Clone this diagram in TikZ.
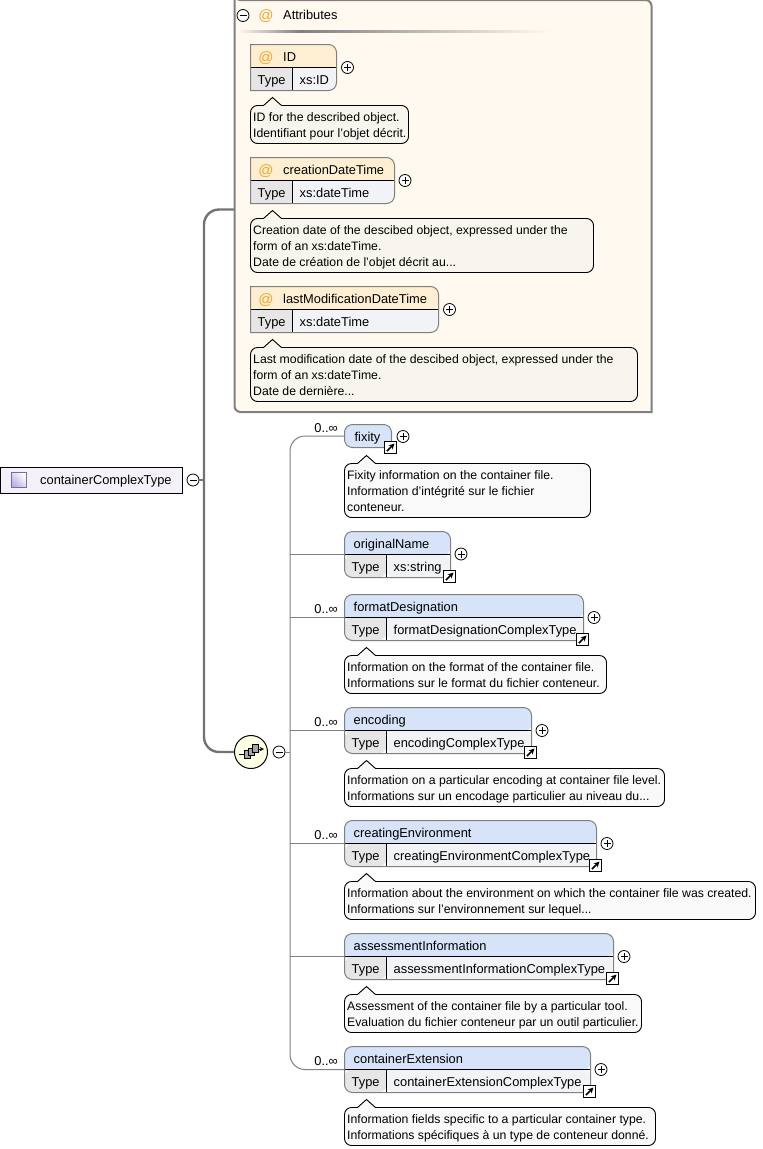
\documentclass[tikz,border=0pt]{standalone}
\usepackage{fontspec}
\setmainfont{Liberation Sans}
\definecolor{attrfill}{HTML}{FFF9F0}
\definecolor{attrhead}{HTML}{FFEFD2}
\definecolor{elemhead}{HTML}{D6E3F8}
\definecolor{typecell}{HTML}{E6E6E6}
\definecolor{valuecell}{HTML}{F2F3F6}
\definecolor{notefill}{HTML}{F8F5EE}
\definecolor{notewhite}{HTML}{F9F9F9}
\definecolor{atsign}{HTML}{F0A830}
\definecolor{linegray}{HTML}{808080}
\definecolor{rootfill}{HTML}{F4F1FB}
\definecolor{rooticonline}{HTML}{7A68B0}
\definecolor{rooticondark}{HTML}{BDB0E0}
\definecolor{choicefill}{HTML}{FFFFE4}
\tikzset{
  label text/.style = {font=\fontsize{12.85}{16}\selectfont, inner sep=0pt, text height=9pt, text depth=3pt},
  left text/.style = {label text, anchor=west},
  note text/.style = {font=\fontsize{12.25}{16}\selectfont, inner sep=0pt, anchor=north west, align=left},
  occurs/.style = {label text, anchor=east},
  at mark/.style = {label text, text=atsign, font=\fontsize{15}{16}\selectfont},
  branch/.style = {draw=linegray, line width=1pt},
  heavy/.style = {draw=linegray!90!black, line width=2.4pt},
  outline/.style = {draw=linegray, line width=1pt},
  toggle/.style = {circle, draw, fill=white, line width=0.8pt, minimum size=12pt, inner sep=0pt},
  linkbox/.style = {draw, fill=white, line width=1.2pt, minimum size=12pt, inner sep=0pt},
}
% expander circles
\newcommand{\plusmark}[3]{
  \node[toggle] (#1) at (#2, #3) {};
  \draw[line width=0.8pt] (#1.center) ++(-3.5, 0) -- ++(7, 0) (#1.center) ++(0, -3.5) -- ++(0, 7);
}
\newcommand{\minusmark}[3]{
  \node[toggle] (#1) at (#2, #3) {};
  \draw[line width=0.8pt] (#1.center) ++(-3.5, 0) -- ++(7, 0);
}
% small reference square
\newcommand{\linkmark}[3]{
  \node[linkbox] (#1) at (#2, #3) {};
  \draw[->, >=stealth, line width=1.5pt] (#1.center) ++(-3.5, 3.5) -- ++(7.5, -7.5);
}
% #1 name, #2 x, #3 y, #4 width, #5 title, #6 type, #7 header colour, #8 left radius, #9 title x
\newcommand{\typedbox}[9]{
  \begin{scope}[shift={(#2, #3)}]
    \node[minimum width=#4pt, minimum height=46pt, inner sep=0pt, outer sep=0pt, anchor=north west] (#1) at (0, 0) {};
    \fill[#7, rounded corners=#8] (0, 24) -- (0, 0) [rounded corners=8] -- (#4, 0) -- (#4, 24) [sharp corners] -- cycle;
    \fill[typecell, rounded corners=#8] (42, 23) -- (0, 23) -- (0, 46) -- (42, 46) [sharp corners] -- cycle;
    \fill[valuecell, rounded corners=8] (42, 23) -- (42, 46) -- (#4, 46) -- (#4, 23) [sharp corners] -- cycle;
    \draw[line width=1pt] (0, 23) -- (#4, 23) (42, 23) -- (42, 46);
    \draw[outline, rounded corners=#8] (#4, 23) [rounded corners=8] -- (#4, 46) [rounded corners=#8] -- (0, 46) -- (0, 0) [rounded corners=8] -- (#4, 0) -- (#4, 23);
    \node[left text] at (#9, 14) {#5};
    \node[left text] at (7, 36.5) {Type};
    \node[left text] at (49, 36.5) {#6};
  \end{scope}
}
% #1 name, #2 x, #3 y, #4 width, #5 height, #6 fill, #7 text
\newcommand{\notebox}[7]{
  \begin{scope}[shift={(#2, #3)}]
    \draw[fill=#6, line width=0.9pt, rounded corners=7] (0, #5) -- (0, 0) [sharp corners] -- (13, 0) -- (22, -8) -- (31, 0) [rounded corners=7] -- (#4, 0) -- (#4, #5) -- cycle;
    \node[note text] (#1) at (2.5, 6.5) {#7};
  \end{scope}
}
\begin{document}
\begin{tikzpicture}[x=1pt, y=-1pt]
  \useasboundingbox (0, 0) rectangle (763, 1149);

  % attribute group
  \draw[draw=linegray, fill=attrfill, line width=2pt, rounded corners=6] (234.5, -6) -- (234.5, 412) [sharp corners] -- (651.5, 412) [rounded corners=6] -- (651.5, 0) -- (234.5, 0) -- cycle;
  \shade[left color=attrfill, right color=linegray] (238, 30) rectangle (300, 32);
  \shade[left color=linegray, right color=attrfill] (300, 30) rectangle (550, 32);
  \minusmark{attrminus}{243}{15.5}
  \node[at mark] (attrat) at (266, 17) {@};
  \node[left text] (attrtitle) at (283, 16.5) {Attributes};

  \typedbox{id}{250.5}{44.5}{86}{ID}{xs:ID}{attrhead}{0}{32.5}
  \typedbox{creation}{250.5}{157.5}{144}{creationDateTime}{xs:dateTime}{attrhead}{0}{32.5}
  \typedbox{modification}{250.5}{286.5}{188}{lastModificationDateTime}{xs:dateTime}{attrhead}{0}{32.5}
  \node[at mark] (idat) at (266, 59) {@};
  \node[at mark] (creationat) at (266, 172) {@};
  \node[at mark] (modificationat) at (266, 301) {@};
  \plusmark{idplus}{347.5}{67.5}
  \plusmark{creationplus}{405}{180.5}
  \plusmark{modificationplus}{449.5}{309.5}
  \notebox{idnote}{250.5}{105.5}{158}{38}{notefill}{ID for the described object.\\Identifiant pour l'objet décrit.}
  \notebox{creationnote}{250.5}{218.5}{343}{54}{notefill}{Creation date of the descibed object, expressed under the\\form of an xs:dateTime.\\Date de création de l'objet décrit au...}
  \notebox{modificationnote}{250.5}{347.5}{387}{54}{notefill}{Last modification date of the descibed object, expressed under the\\form of an xs:dateTime.\\Date de dernière...}

  % root type
  \node[draw, fill=rootfill, line width=1pt, minimum width=182pt, minimum height=26pt, inner sep=0pt, outer sep=0pt, anchor=north west] (root) at (0.5, 467.5) {};
  \node[draw=rooticonline, shading=axis, left color=white, right color=rooticondark, shading angle=-45, minimum size=15pt, inner sep=0pt] (rooticon) at (19, 480) {};
  \node[left text] (roottitle) at (40, 481.5) {containerComplexType};
  \minusmark{rootminus}{193}{480}

  % sequence
  \node[circle, draw, fill=choicefill, line width=1pt, minimum size=33pt, inner sep=0pt] (choice) at (251, 752) {};
  \draw[line width=1pt] (239, 754) -- (244, 754);
  \draw[->, >=stealth, line width=1pt] (258, 749) -- (264, 749);
  \draw[fill=black!35] (244, 750) rectangle (250, 758);
  \draw[fill=black!35] (248, 748) rectangle (254, 755);
  \draw[fill=black!35] (252, 744) rectangle (258, 752);
  \minusmark{choiceminus}{279}{752}
  \coordinate (trunk) at (204, 480);
  \coordinate (attrport) at (234, 209.5);
  \draw[heavy] (rootminus.east) -- (trunk);
  \draw[heavy, rounded corners=15] (attrport) -- (trunk |- attrport) -- (trunk |- choice) -- (choice.west);

  % elements
  \coordinate (bar) at (290, 752);
  \node[minimum width=47pt, minimum height=23pt, inner sep=0pt, outer sep=0pt, anchor=north west, draw=linegray, fill=elemhead, rounded corners=8, line width=1pt] (fixity) at (344.5, 424.5) {};
  \node[label text] (fixitytitle) at (367.5, 438) {fixity};
  \linkmark{fixitylink}{390.5}{447.5}
  \plusmark{fixityplus}{403}{436.5}
  \typedbox{originalname}{344.5}{531.5}{106}{originalName}{xs:string}{elemhead}{8}{9}
  \linkmark{originallink}{449.5}{576.5}
  \plusmark{originalplus}{461}{554}
  \typedbox{format}{344.5}{594.5}{239}{formatDesignation}{formatDesignationComplexType}{elemhead}{8}{9}
  \linkmark{formatlink}{582.5}{639.5}
  \plusmark{formatplus}{594}{617.5}
  \typedbox{encoding}{344.5}{707.5}{187}{encoding}{encodingComplexType}{elemhead}{8}{9}
  \linkmark{encodinglink}{530.5}{752.5}
  \plusmark{encodingplus}{542}{730.5}
  \typedbox{environment}{344.5}{820.5}{252}{creatingEnvironment}{creatingEnvironmentComplexType}{elemhead}{8}{9}
  \linkmark{environmentlink}{595.5}{865.5}
  \plusmark{environmentplus}{607}{843.5}
  \typedbox{assessment}{344.5}{933.5}{269}{assessmentInformation}{assessmentInformationComplexType}{elemhead}{8}{9}
  \linkmark{assessmentlink}{612.5}{978.5}
  \plusmark{assessmentplus}{624}{956.5}
  \typedbox{extension}{344.5}{1046.5}{246}{containerExtension}{containerExtensionComplexType}{elemhead}{8}{9}
  \linkmark{extensionlink}{589.5}{1091.5}
  \plusmark{extensionplus}{601}{1069.5}

  \notebox{fixitynote}{344.5}{463.5}{246}{54}{notewhite}{Fixity information on the container file.\\Information d'intégrité sur le fichier\\conteneur.}
  \notebox{formatnote}{344.5}{655.5}{262}{38}{notewhite}{Information on the format of the container file.\\Informations sur le format du fichier conteneur.}
  \notebox{encodingnote}{344.5}{768.5}{320}{38}{notewhite}{Information on a particular encoding at container file level.\\Informations sur un encodage particulier au niveau du...}
  \notebox{environmentnote}{344.5}{881.5}{411}{38}{notewhite}{Information about the environment on which the container file was created.\\Informations sur l'environnement sur lequel...}
  \notebox{assessmentnote}{344.5}{994.5}{297}{38}{notewhite}{Assessment of the container file by a particular tool.\\Evaluation du fichier conteneur par un outil particulier.}
  \notebox{extensionnote}{344.5}{1107.5}{311}{38}{notewhite}{Information fields specific to a particular container type.\\Informations spécifiques à un type de conteneur donné.}

  \draw[branch] (choiceminus.east) -- (bar);
  \draw[branch, rounded corners=15] (fixity.west) -- (bar |- fixity.west) -- (bar |- extension.west) -- (extension.west);
  \draw[branch] (bar |- originalname.west) -- (originalname.west);
  \draw[branch] (bar |- format.west) -- (format.west);
  \draw[branch] (bar |- encoding.west) -- (encoding.west);
  \draw[branch] (bar |- environment.west) -- (environment.west);
  \draw[branch] (bar |- assessment.west) -- (assessment.west);

  \node[occurs] (fixityocc) at (338, 429.5) {0..∞};
  \node[occurs] (formatocc) at (338, 610.5) {0..∞};
  \node[occurs] (encodingocc) at (338, 723.5) {0..∞};
  \node[occurs] (environmentocc) at (338, 836.5) {0..∞};
  \node[occurs] (extensionocc) at (338, 1062.5) {0..∞};
\end{tikzpicture}
\end{document}
